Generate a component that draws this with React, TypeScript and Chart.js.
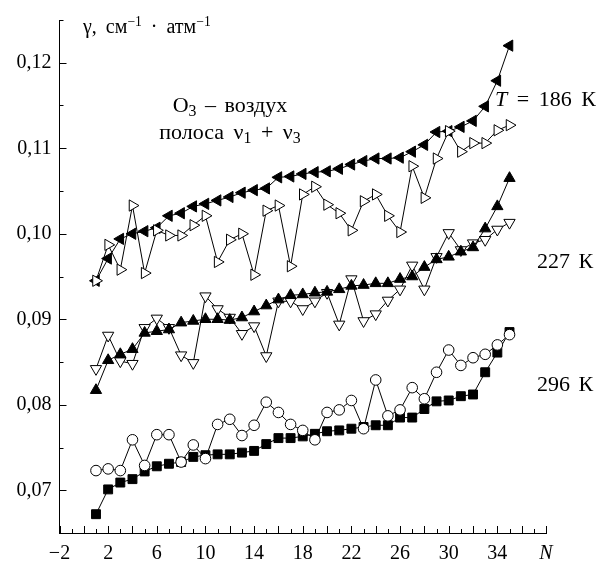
import React, { useEffect, useRef } from 'react';
import { Chart, registerables } from 'chart.js';

Chart.register(...registerables);

// ---- data ----
const N_VALUES = [1, 2, 3, 4, 5, 6, 7, 8, 9, 10, 11, 12, 13, 14, 15, 16, 17, 18, 19, 20, 21, 22, 23, 24, 25, 26, 27, 28, 29, 30, 31, 32, 33, 34, 35];

// T = 186 K
const gamma186Filled = [0.0945, 0.0971, 0.0994, 0.1000, 0.1003, 0.1007, 0.1021, 0.1024, 0.1032, 0.1035, 0.1039, 0.1043, 0.1048, 0.1051, 0.1053, 0.1066, 0.1067, 0.1070, 0.1072, 0.1073, 0.1076, 0.1081, 0.1085, 0.1088, 0.1088, 0.1089, 0.1096, 0.1104, 0.1119, 0.1120, 0.1125, 0.1132, 0.1149, 0.1179, 0.1220];
const gamma186Open = [0.0945, 0.0987, 0.0958, 0.1033, 0.0954, 0.1004, 0.0998, 0.0998, 0.1010, 0.1021, 0.0967, 0.0993, 0.1000, 0.0952, 0.1027, 0.1033, 0.0962, 0.1046, 0.1055, 0.1034, 0.1024, 0.1004, 0.1038, 0.1046, 0.1021, 0.1002, 0.1079, 0.1042, 0.1088, 0.1120, 0.1096, 0.1106, 0.1106, 0.1121, 0.1127];

// T = 227 K
const gamma227Filled = [0.0817, 0.0852, 0.0859, 0.0865, 0.0884, 0.0886, 0.0888, 0.0896, 0.0898, 0.0900, 0.0900, 0.0899, 0.0902, 0.0909, 0.0916, 0.0923, 0.0928, 0.0929, 0.0931, 0.0932, 0.0935, 0.0939, 0.0940, 0.0942, 0.0942, 0.0947, 0.0950, 0.0961, 0.0970, 0.0973, 0.0979, 0.0984, 0.1006, 0.1032, 0.1065];
const gamma227Open = [0.0842, 0.0881, 0.0851, 0.0848, 0.0890, 0.0901, 0.0890, 0.0858, 0.0849, 0.0927, 0.0912, 0.0902, 0.0883, 0.0892, 0.0857, 0.0921, 0.0921, 0.0912, 0.0921, 0.0931, 0.0894, 0.0947, 0.0898, 0.0906, 0.0922, 0.0935, 0.0963, 0.0935, 0.0973, 0.1001, 0.0981, 0.0989, 0.0993, 0.1005, 0.1013];

// T = 296 K
const gamma296Filled = [0.0672, 0.0701, 0.0709, 0.0713, 0.0722, 0.0728, 0.0731, 0.0733, 0.0739, 0.0741, 0.0742, 0.0742, 0.0744, 0.0746, 0.0754, 0.0761, 0.0761, 0.0763, 0.0766, 0.0769, 0.0770, 0.0772, 0.0774, 0.0776, 0.0776, 0.0785, 0.0785, 0.0795, 0.0804, 0.0805, 0.0810, 0.0812, 0.0838, 0.0861, 0.0885];
const gamma296Open = [0.0723, 0.0725, 0.0723, 0.0759, 0.0729, 0.0765, 0.0765, 0.0733, 0.0753, 0.0737, 0.0777, 0.0783, 0.0764, 0.0776, 0.0803, 0.0791, 0.0777, 0.0770, 0.0759, 0.0791, 0.0794, 0.0805, 0.0772, 0.0829, 0.0787, 0.0794, 0.0820, 0.0807, 0.0838, 0.0864, 0.0846, 0.0855, 0.0859, 0.0870, 0.0882];

// ---- axes ----
const X_MIN = -2;
const X_MAX = 38;
const Y_MIN = 0.065;
const Y_MAX = 0.125;
const xTickValues = [-2, 2, 6, 10, 14, 18, 22, 26, 30, 34, 38];
const xTickLabels = ['\u22122', '2', '6', '10', '14', '18', '22', '26', '30', '34', 'N'];
const yTickValues = [0.07, 0.08, 0.09, 0.1, 0.11, 0.12];
const yTickLabels = ['0,07', '0,08', '0,09', '0,10', '0,11', '0,12'];

const FONT = 'Liberation Serif';

const toPoints = (ys: number[]) => N_VALUES.map((n, i) => ({ x: n, y: ys[i] }));

const tickMarks = {
  id: 'tickMarks',
  afterDatasetsDraw(chart: any) {
    const { ctx, chartArea: a, scales } = chart;
    const xs = scales.x;
    const ys = scales.y;
    ctx.save();
    ctx.strokeStyle = '#000';
    ctx.lineWidth = 1;
    ctx.beginPath();
    for (let v = X_MIN; v <= X_MAX; v += 1) {
      const px = Math.round(xs.getPixelForValue(v)) + 0.5;
      const len = Math.abs(v) % 2 === 0 ? 7 : 4;
      ctx.moveTo(px, a.bottom);
      ctx.lineTo(px, a.bottom - len);
    }
    for (let i = 0; i <= 12; i++) {
      const v = Y_MIN + i * 0.005;
      const py = Math.round(ys.getPixelForValue(v)) + 0.5;
      const len = i % 2 === 1 ? 7 : 4;
      ctx.moveTo(a.left, py);
      ctx.lineTo(a.left + len, py);
    }
    ctx.stroke();
    ctx.restore();
  },
};

function makeDataset(values: number[], style: string, rotation: number, filled: boolean, radius: number) {
  return {
    data: toPoints(values),
    showLine: true,
    borderColor: '#000',
    borderWidth: 1,
    tension: 0,
    pointStyle: style,
    pointRotation: rotation,
    pointRadius: radius,
    pointBackgroundColor: filled ? '#000' : '#fff',
    pointBorderColor: '#000',
    pointBorderWidth: 1,
    fill: false,
  };
}

export default function App() {
  const canvasRef = useRef<HTMLCanvasElement | null>(null);

  useEffect(() => {
    const canvas = canvasRef.current;
    if (!canvas) return;
    const chart = new Chart(canvas, {
      type: 'line',
      data: {
        datasets: [
          makeDataset(gamma186Open, 'triangle', 90, false, 6.5),
          makeDataset(gamma186Filled, 'triangle', -90, true, 6.5),
          makeDataset(gamma227Filled, 'triangle', 0, true, 6.5),
          makeDataset(gamma227Open, 'triangle', 180, false, 6.5),
          makeDataset(gamma296Open, 'circle', 0, false, 5.3),
          makeDataset(gamma296Filled, 'rect', 0, true, 6.3),
        ] as any,
      },
      options: {
        animation: false,
        responsive: false,
        maintainAspectRatio: false,
        layout: { padding: { top: 12, right: 52, left: 0, bottom: 0 } },
        plugins: { legend: { display: false }, tooltip: { enabled: false } },
        scales: {
          x: {
            type: 'linear',
            min: X_MIN,
            max: X_MAX,
            afterBuildTicks: (s: any) => {
              s.ticks = xTickValues.map((v) => ({ value: v }));
            },
            afterFit: (s: any) => {
              s.height = 30;
            },
            grid: { display: false, drawTicks: false },
            border: { display: true, color: '#000', width: 1 },
            ticks: {
              autoSkip: false,
              maxRotation: 0,
              minRotation: 0,
              padding: 9,
              color: '#000',
              font: (ctx: any) => ({
                family: FONT,
                size: 20,
                style: ctx.tick && ctx.tick.value === 38 ? 'italic' : 'normal',
              }),
              callback: (v: any) => {
                const i = xTickValues.indexOf(Number(v));
                return i >= 0 ? xTickLabels[i] : '';
              },
            },
          },
          y: {
            type: 'linear',
            min: Y_MIN,
            max: Y_MAX,
            afterBuildTicks: (s: any) => {
              s.ticks = yTickValues.map((v) => ({ value: v }));
            },
            afterFit: (s: any) => {
              s.width = 59.5;
            },
            grid: { display: false, drawTicks: false },
            border: { display: true, color: '#000', width: 1 },
            ticks: {
              autoSkip: false,
              padding: 8,
              color: '#000',
              font: { family: FONT, size: 20 },
              callback: (v: any) => {
                const i = yTickValues.findIndex((t) => Math.abs(t - Number(v)) < 1e-9);
                return i >= 0 ? yTickLabels[i] : '';
              },
            },
          },
        },
      } as any,
      plugins: [tickMarks],
    });
    return () => chart.destroy();
  }, []);

  const txt: React.CSSProperties = {
    position: 'absolute',
    fontFamily: FONT,
    color: '#000',
    whiteSpace: 'nowrap',
    lineHeight: 1,
  };
  const sup: React.CSSProperties = { fontSize: '0.68em', position: 'relative', top: '-0.5em' };
  const sub: React.CSSProperties = { fontSize: '0.72em', position: 'relative', top: '0.25em' };

  return (
    <div style={{ position: 'absolute', left: 0, top: 0, width: 598, height: 563, background: '#fff' }}>
      <canvas ref={canvasRef} width={598} height={563} style={{ display: 'block', width: 598, height: 563 }} />
      <div style={{ ...txt, left: 83, top: 16, fontSize: 20, wordSpacing: 4 }}>
        γ, см<span style={sup}>−1</span> · атм<span style={sup}>−1</span>
      </div>
      <div style={{ ...txt, left: 130, width: 200, textAlign: 'center', top: 94, fontSize: 22, wordSpacing: 3 }}>
        O<span style={sub}>3</span> – воздух
      </div>
      <div style={{ ...txt, left: 130, width: 200, textAlign: 'center', top: 121, fontSize: 22, wordSpacing: 4 }}>
        полоса ν<span style={sub}>1</span> + ν<span style={sub}>3</span>
      </div>
      <div style={{ ...txt, left: 495, top: 88, fontSize: 22, wordSpacing: 4 }}>
        <i>T</i> = 186 К
      </div>
      <div style={{ ...txt, left: 537, top: 250, fontSize: 22, wordSpacing: 3 }}>227 К</div>
      <div style={{ ...txt, left: 537, top: 373, fontSize: 22, wordSpacing: 3 }}>296 К</div>
    </div>
  );
}
